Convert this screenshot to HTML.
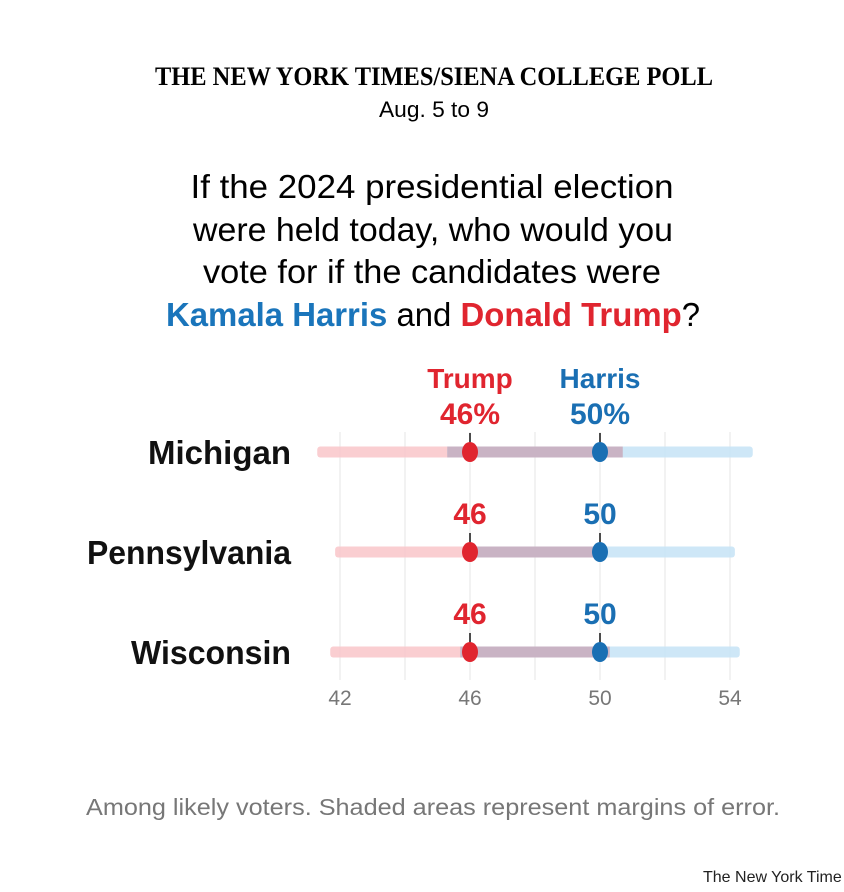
<!DOCTYPE html>
<html><head><meta charset="utf-8"><style>
html,body{margin:0;padding:0;background:#fff;}
svg{display:block;font-family:"Liberation Sans",Arial,sans-serif;}
</style></head><body>
<svg id="chart" width="844" height="892" viewBox="0 0 844 892">
<text x="434" y="85" text-anchor="middle" font-family="Liberation Serif,serif" font-weight="bold" font-size="26" textLength="558" lengthAdjust="spacingAndGlyphs">THE NEW YORK TIMES/SIENA COLLEGE POLL</text>
<text x="434" y="117" text-anchor="middle" font-size="22" textLength="110" lengthAdjust="spacingAndGlyphs">Aug. 5 to 9</text>
<g font-size="33" text-anchor="middle">
<text x="432" y="198" textLength="483" lengthAdjust="spacingAndGlyphs">If the 2024 presidential election</text>
<text x="433" y="241" textLength="480" lengthAdjust="spacingAndGlyphs">were held today, who would you</text>
<text x="432" y="283" textLength="458" lengthAdjust="spacingAndGlyphs">vote for if the candidates were</text>
<text x="433" y="326" textLength="534" lengthAdjust="spacingAndGlyphs"><tspan fill="#1a75bb" font-weight="bold">Kamala Harris</tspan> and <tspan fill="#e0252f" font-weight="bold">Donald Trump</tspan>?</text>
</g>
<g id="grid"></g>
<g id="rows"></g>
<g id="axis"></g>
<text x="433" y="815" text-anchor="middle" font-size="23" fill="#777" textLength="694" lengthAdjust="spacingAndGlyphs">Among likely voters. Shaded areas represent margins of error.</text>
<text x="703" y="882" font-size="16" fill="#222">The New York Time</text>
</svg>
<script>
const states = ["Michigan", "Pennsylvania", "Wisconsin"];
const trump = [46, 46, 46];
const harris = [50, 50, 50];
const moe = [4.7, 4.15, 4.3];
const ticks = [42, 46, 50, 54];
const gridVals = [42, 44, 46, 48, 50, 52, 54];
const labelW = [143, 204, 160];
const NS = "http://www.w3.org/2000/svg";
const x = v => 340 + (v - 42) * 32.5;
const rowY = i => 452 + i * 100;
function mk(tag, attrs, parent, txt){const e=document.createElementNS(NS,tag);for(const k in attrs)e.setAttribute(k,attrs[k]);if(txt!==undefined)e.textContent=txt;parent.appendChild(e);return e;}
const grid=document.getElementById('grid'), rows=document.getElementById('rows'), axis=document.getElementById('axis');
gridVals.forEach(v=>{const l=mk('line',{x1:x(v),x2:x(v),y1:432,y2:680,stroke:'#e6e6e6','stroke-width':1},grid);

});
ticks.forEach(v=>{const t=mk('text',{x:x(v),y:705,'text-anchor':'middle','font-size':21,fill:'#777'},axis,String(v));

});
states.forEach((s,i)=>{
  const y=rowY(i), m=moe[i];
  const lab=mk('text',{x:291,y:y+12,'text-anchor':'end','font-size':33,'font-weight':'bold',fill:'#111',textLength:labelW[i],lengthAdjust:'spacingAndGlyphs'},rows,s);
  
  
  const tl=trump[i]-m, th=trump[i]+m, hl=harris[i]-m, hh=harris[i]+m;
  const pr=mk('rect',{x:x(tl),y:y-5.5,width:x(th)-x(tl),height:11,rx:3,fill:'#f9c6c9',opacity:0.85},rows);
  
  
  const br=mk('rect',{x:x(hl),y:y-5.5,width:x(hh)-x(hl),height:11,rx:3,fill:'#c5e3f6',opacity:0.85},rows);
  
  
  const ol=Math.max(tl,hl), oh=Math.min(th,hh);
  if(oh>ol){const o=mk('rect',{x:x(ol),y:y-5.5,width:x(oh)-x(ol),height:11,fill:'#c9b3c4'},rows);
  
  }
  [[trump[i],'#e0252f','trump'],[harris[i],'#1a6fb3','harris']].forEach(([v,c,n])=>{
    mk('line',{x1:x(v),x2:x(v),y1:y-19,y2:y-6,stroke:'#111','stroke-width':1.5},rows);
    const d=mk('ellipse',{cx:x(v),cy:y,rx:8,ry:10,fill:c},rows);
    
    
    const lbl = i===0 ? v+'%' : String(v);
    const t=mk('text',{x:x(v),y:y-28,'text-anchor':'middle','font-size':30,'font-weight':'bold',fill:c},rows,lbl);
    
    
    if(i===0){const h=mk('text',{x:x(v),y:y-64,'text-anchor':'middle','font-size':28,'font-weight':'bold',fill:c},rows,n==='trump'?'Trump':'Harris');
    
    }
  });
});
</script>
</body></html>
